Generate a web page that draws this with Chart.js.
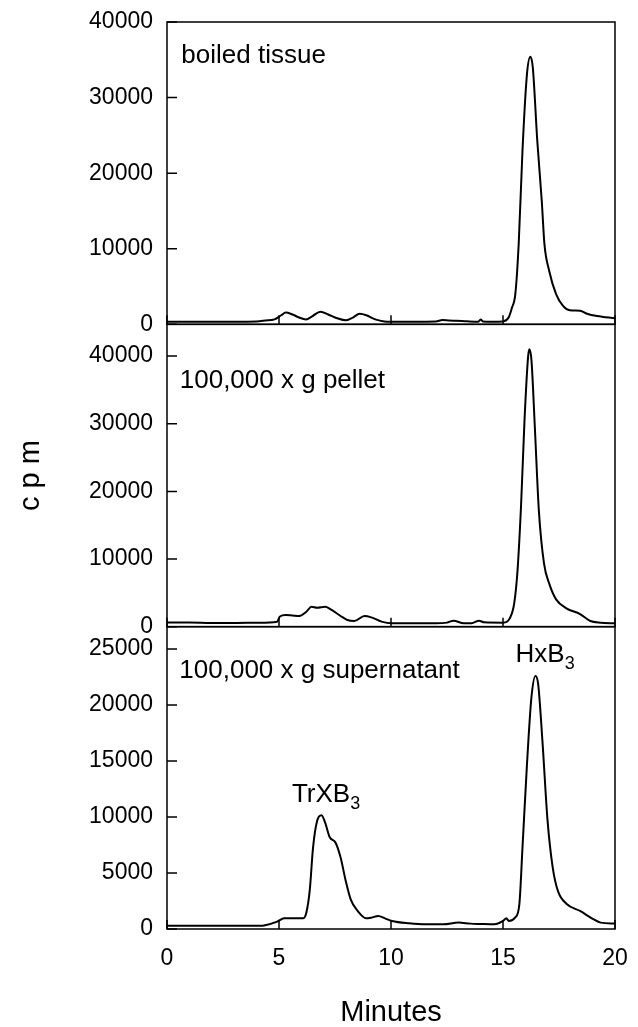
<!DOCTYPE html>
<html>
<head>
<meta charset="utf-8">
<script src="https://cdn.jsdelivr.net/npm/chart.js@4"></script>
<style>
  body { margin: 0; background: #fff; }
  canvas { display: block; }
</style>
</head>
<body>
<canvas id="radio-hplc" width="638" height="1027"></canvas>
<script>
const grafico = document.getElementById("radio-hplc");

// tempos (min) e cpm de cada painel
const boiled_t = [0, 1, 2, 3, 4.0, 4.4, 4.8, 5.1, 5.3, 5.6, 5.9, 6.2, 6.5, 6.85, 7.2, 7.6, 8.0, 8.3, 8.6, 8.9, 9.3, 9.7, 10, 11, 12, 12.3, 12.6, 12.9, 13.4, 13.9, 14.0, 14.1, 14.5, 15.0, 15.25, 15.4, 15.55, 15.7, 15.87, 16.07, 16.22, 16.33, 16.53, 16.73, 16.85, 17.06, 17.37, 17.68, 17.98, 18.44, 18.75, 19.2, 20];
const boiled_cpm = [350, 350, 350, 350, 380, 500, 650, 1200, 1550, 1300, 900, 650, 1100, 1680, 1300, 800, 530, 900, 1400, 1200, 650, 380, 350, 350, 380, 570, 500, 480, 400, 350, 650, 380, 350, 380, 900, 2200, 4000, 10600, 23000, 33100, 35400, 34000, 24300, 16350, 10600, 7100, 4000, 2430, 1850, 1800, 1410, 1100, 800];

const pellet_t = [0, 1, 2, 3, 4.08, 4.92, 5.03, 5.3, 5.6, 5.91, 6.22, 6.45, 6.7, 7.06, 7.29, 7.75, 8.05, 8.36, 8.82, 9.12, 9.58, 10.02, 11, 12, 12.5, 12.79, 13.25, 13.6, 13.93, 14.16, 15.0, 15.3, 15.5, 15.65, 15.81, 15.96, 16.12, 16.18, 16.27, 16.42, 16.6, 16.83, 17.06, 17.37, 17.83, 18.44, 18.9, 19.36, 20];
const pellet_cpm = [600, 600, 550, 550, 590, 740, 1480, 1720, 1650, 1580, 2200, 2950, 2800, 2950, 2600, 1580, 990, 840, 1580, 1380, 740, 490, 490, 490, 600, 890, 490, 500, 890, 640, 590, 1230, 3450, 8370, 18200, 30500, 39900, 41000, 39400, 29600, 17200, 9360, 6400, 4040, 2710, 1870, 840, 590, 490];

const super_t = [0, 1, 2, 3, 4.2, 4.38, 4.92, 5.23, 5.6, 6.07, 6.22, 6.37, 6.52, 6.7, 6.9, 7.06, 7.26, 7.52, 7.75, 7.98, 8.2, 8.51, 8.89, 9.12, 9.43, 9.73, 10.04, 10.8, 11.57, 12.33, 13.02, 13.55, 14.0, 14.62, 15.0, 15.15, 15.26, 15.54, 15.73, 15.87, 16.07, 16.27, 16.45, 16.57, 16.76, 16.99, 17.22, 17.45, 17.83, 18.44, 19.05, 19.36, 20];
const super_cpm = [280, 280, 280, 280, 280, 330, 660, 950, 950, 950, 1460, 3400, 7270, 9650, 10160, 9500, 8220, 7720, 6380, 4290, 2650, 1610, 950, 1010, 1160, 950, 720, 510, 420, 420, 570, 480, 450, 420, 720, 950, 720, 1010, 2200, 7270, 14700, 20700, 22600, 21870, 16800, 9650, 5480, 3400, 2260, 1610, 860, 570, 480];

// ticks dos eixos
const x_ticks = [0, 5, 10, 15, 20];
const top_ticks = [0, 10000, 20000, 30000, 40000];
const mid_ticks = [0, 10000, 20000, 30000, 40000];
const bot_ticks = [0, 5000, 10000, 15000, 20000, 25000];

const FONTE = "'Liberation Sans', Arial, Helvetica, sans-serif";

function pontos(t, v) {
  return t.map((x, i) => ({ x: x, y: v[i] }));
}

function curva(label, t, v, eixo) {
  return {
    label: label,
    data: pontos(t, v),
    yAxisID: eixo,
    borderColor: "#000000",
    borderWidth: 2,
    pointRadius: 0,
    cubicInterpolationMode: "monotone",
    fill: false,
  };
}

function eixoY(max, lista, titulo) {
  return {
    type: "linear",
    position: "left",
    stack: "paineis",
    stackWeight: 1,
    min: 0,
    max: max,
    grid: { display: false, drawTicks: false },
    border: { display: false },
    afterBuildTicks: function (scale) {
      scale.ticks = lista.map((v) => ({ value: v }));
    },
    ticks: {
      padding: 14,
      color: "#000000",
      font: { family: FONTE, size: 23 },
      callback: function (val) {
        return String(val);
      },
    },
    title: {
      display: !!titulo,
      text: titulo || "",
      color: "#000000",
      font: { family: FONTE, size: 29, lineHeight: 1 },
      padding: { top: 16, bottom: 0 },
    },
    afterFit: function (scale) {
      scale.width = 167;
      scale.paddingTop = 0;
      scale.paddingBottom = 0;
    },
  };
}

// molduras dos paineis + ticks para dentro
const molduras = {
  id: "molduras",
  afterDraw(chart) {
    const ctx = chart.ctx;
    const area = chart.chartArea;
    const xs = chart.scales.x;
    ctx.save();
    ctx.strokeStyle = "#000000";
    ctx.lineWidth = 1.5;
    ["yTop", "yMid", "yBot"].forEach((id) => {
      const s = chart.scales[id];
      ctx.strokeRect(area.left, s.top, area.right - area.left, s.bottom - s.top);
      ctx.beginPath();
      s.ticks.forEach((t) => {
        const py = s.getPixelForValue(t.value);
        ctx.moveTo(area.left, py);
        ctx.lineTo(area.left + 10, py);
      });
      x_ticks.forEach((t) => {
        const px = xs.getPixelForValue(t);
        ctx.moveTo(px, s.bottom);
        ctx.lineTo(px, s.bottom - 9);
      });
      ctx.stroke();
    });
    ctx.restore();
  },
};

// textos dentro dos paineis
const rotulos = [
  { eixo: "yTop", x: 0.64, y: 35500, texto: "boiled tissue", sub: "", align: "left" },
  { eixo: "yMid", x: 0.57, y: 36400, texto: "100,000 x g pellet", sub: "", align: "left" },
  { eixo: "yBot", x: 0.55, y: 23100, texto: "100,000 x g supernatant", sub: "", align: "left" },
  { eixo: "yBot", x: 7.1, y: 12000, texto: "TrXB", sub: "3", align: "center" },
  { eixo: "yBot", x: 16.88, y: 24500, texto: "HxB", sub: "3", align: "center" },
];

const anotacoes = {
  id: "anotacoes",
  afterDraw(chart) {
    const ctx = chart.ctx;
    const xs = chart.scales.x;
    ctx.save();
    ctx.fillStyle = "#000000";
    ctx.textBaseline = "middle";
    ctx.textAlign = "left";
    rotulos.forEach((r) => {
      const ys = chart.scales[r.eixo];
      let px = xs.getPixelForValue(r.x);
      const py = ys.getPixelForValue(r.y);
      ctx.font = "26px " + FONTE;
      const w1 = ctx.measureText(r.texto).width;
      ctx.font = "18px " + FONTE;
      const w2 = r.sub ? ctx.measureText(r.sub).width : 0;
      if (r.align === "center") px -= (w1 + w2) / 2;
      ctx.font = "26px " + FONTE;
      ctx.fillText(r.texto, px, py);
      if (r.sub) {
        ctx.font = "18px " + FONTE;
        ctx.fillText(r.sub, px + w1, py + 9);
      }
    });
    ctx.restore();
  },
};

new Chart(grafico, {
  type: "line",
  data: {
    datasets: [
      curva("boiled tissue", boiled_t, boiled_cpm, "yTop"),
      curva("100,000 x g pellet", pellet_t, pellet_cpm, "yMid"),
      curva("100,000 x g supernatant", super_t, super_cpm, "yBot"),
    ],
  },
  options: {
    responsive: false,
    animation: false,
    layout: {
      padding: { top: 22, right: 23, bottom: 0, left: 0 },
    },
    scales: {
      x: {
        type: "linear",
        position: "bottom",
        min: 0,
        max: 20,
        grid: { display: false, drawTicks: false },
        border: { display: false },
        afterBuildTicks: function (scale) {
          scale.ticks = x_ticks.map((v) => ({ value: v }));
        },
        ticks: {
          padding: 16,
          color: "#000000",
          font: { family: FONTE, size: 23 },
        },
        title: {
          display: true,
          text: "Minutes",
          color: "#000000",
          font: { family: FONTE, size: 29, lineHeight: 1 },
          padding: { top: 0, bottom: 0 },
        },
        afterFit: function (scale) {
          scale.height = 98;
          scale.paddingLeft = 0;
          scale.paddingRight = 0;
        },
      },
      yBot: eixoY(27000, bot_ticks),
      yMid: eixoY(44700, mid_ticks, "c p m"),
      yTop: eixoY(40000, top_ticks),
    },
    plugins: {
      legend: { display: false },
      tooltip: { enabled: false },
    },
  },
  plugins: [molduras, anotacoes],
});
</script>
</body>
</html>
